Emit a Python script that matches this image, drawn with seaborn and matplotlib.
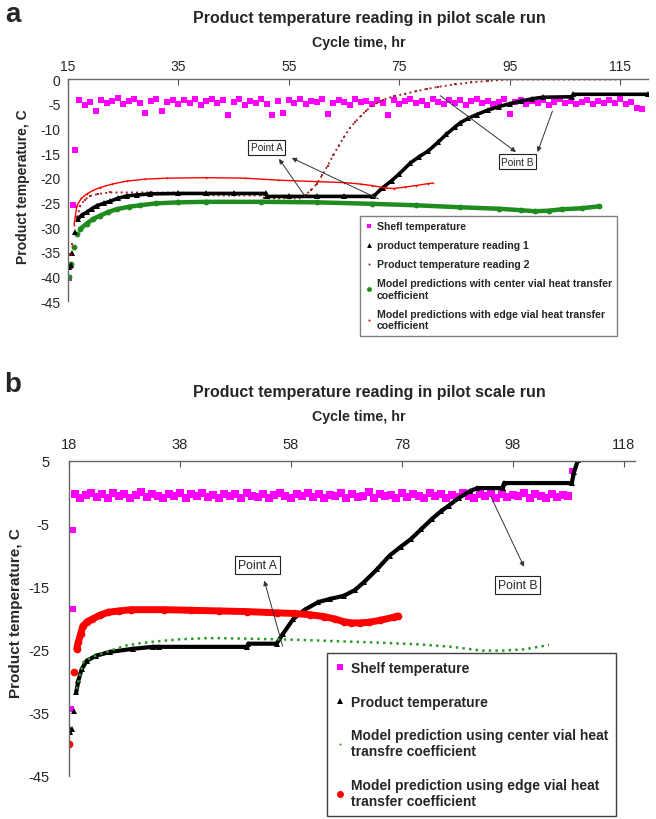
import numpy as np
import matplotlib
matplotlib.use("Agg")
import matplotlib.pyplot as plt
from matplotlib.lines import Line2D
import seaborn as sns

# ---------------- panel a ----------------
a_xticks = [15, 35, 55, 75, 95, 115]
a_yticks = [0, -5, -10, -15, -20, -25, -30, -35, -40, -45]

a_shelf_early_hr = [15.2, 15.4, 15.9, 16.2]
a_shelf_early_temp = [-40.3, -37.9, -25.6, -14.4]
a_shelf_first_hr = 17  # hourly readings from here on
a_shelf_temp = [
    -4.3, -5.2, -4.6, -6.4, -4.2, -4.9, -4.4, -3.9, -5.1, -4.5,
    -4.1, -4.8, -6.9, -4.4, -4.0, -6.5, -4.7, -4.2, -5.0, -4.3,
    -4.8, -4.0, -5.3, -4.5, -4.1, -4.9, -4.3, -7.3, -4.6, -4.0,
    -5.2, -4.4, -4.8, -4.1, -5.0, -7.2, -4.5, -6.9, -4.2, -4.8,
    -4.0, -5.1, -4.4, -4.7, -4.1, -7.0, -4.9, -4.3, -4.6, -5.2,
    -4.0, -4.7, -4.4, -5.0, -4.2, -4.8, -7.2, -4.3, -5.1, -4.5,
    -4.0, -4.9, -4.4, -5.3, -4.1, -4.7, -5.0, -4.3, -4.8, -4.2,
    -5.2, -4.5, -4.0, -4.9, -4.4, -5.1, -4.6, -4.1, -7.0, -4.7,
    -4.3, -5.0, -4.5, -4.9, -4.2, -5.2, -4.6, -4.0, -4.8, -4.4,
    -5.1, -4.7, -4.2, -5.0, -4.5, -4.9, -4.3, -4.8, -4.1, -5.0,
    -4.6, -5.8, -6.1,
]

a_read1_hr = [15.2, 15.5, 15.7, 16.3, 16.8, 17.5, 18.4, 19.3, 20.2, 21.5,
              22.6, 24.0, 25.6, 27.5, 29.8, 35, 40, 45, 50.8, 51.0,
              55, 60, 65, 70.3, 72, 73.6, 75, 77, 78.5, 80.2,
              82, 83.5, 85, 86, 87.4, 89, 91, 93, 95, 97,
              99, 101, 106.3, 106.5, 120]
a_read1_temp = [-38.2, -37.8, -35.3, -31.0, -28.4, -27.6, -27.0, -26.3, -25.7, -25.2,
                -24.8, -24.2, -23.7, -23.5, -23.3, -23.2, -23.2, -23.2, -23.2, -23.8,
                -23.8, -23.8, -23.8, -23.8, -22.0, -20.6, -19.2, -17.0, -15.8, -14.6,
                -12.8, -11.2, -9.8, -8.9, -8.0, -7.2, -6.3, -5.6, -5.0, -4.5,
                -4.0, -3.7, -3.6, -3.1, -3.1]

a_read2_hr = [15.3, 15.8, 16.2, 16.7, 17.2, 18, 19, 20.5, 22.6, 30,
              40, 40.5, 50, 50.5, 57, 58, 59, 60, 61, 62,
              63, 64, 65, 66, 67, 68, 69, 70, 71, 72,
              74, 76, 78, 80, 82, 85, 88, 91, 95, 100, 115]
a_read2_temp = [-35.5, -33.5, -31.0, -28.0, -25.8, -24.5, -23.7, -23.3, -23.0, -23.0,
                -23.1, -23.6, -23.6, -24.2, -24.2, -23.5, -22.5, -21.3, -19.5, -17.6,
                -15.5, -13.5, -11.7, -10.0, -8.7, -7.5, -6.4, -5.5, -4.8, -4.2,
                -3.5, -3.0, -2.5, -2.0, -1.6, -1.1, -0.7, -0.4, -0.1, -0.1, -0.1]

a_center_hr = [15.2, 15.6, 16.0, 16.6, 17.2, 18.4, 19.5, 20.8, 22.2, 23.8,
               26, 28, 31, 35, 40, 50, 60, 70, 78, 86,
               93, 97, 99.5, 102, 104.5, 108, 111.2]
a_center_temp = [-40.2, -37.5, -34.1, -31.4, -30.4, -29.3, -28.4, -27.7, -27.0, -26.4,
                 -25.9, -25.6, -25.2, -25.0, -24.9, -24.9, -25.0, -25.3, -25.6, -26.0,
                 -26.3, -26.6, -26.8, -26.7, -26.4, -26.2, -25.8]

a_edge_hr = [15.5, 15.7, 16.1, 16.6, 17.4, 18.4, 19.5, 20.8, 23, 25.6,
             29, 32.9, 40, 47, 53, 60, 65, 68, 70, 72.5,
             74, 76, 78, 80.2, 81]
a_edge_temp = [-35.5, -33.8, -29.5, -25.7, -24.2, -23.3, -22.6, -22.0, -21.3, -20.7,
               -20.3, -20.1, -20.0, -20.1, -20.5, -20.8, -21.0, -21.3, -21.6, -22.1,
               -22.2, -21.9, -21.6, -21.2, -21.1]

# ---------------- panel b ----------------
b_xticks = [18, 38, 58, 78, 98, 118]
b_yticks = [5, -5, -15, -25, -35, -45]

b_shelf_early_hr = [18.0, 18.4, 18.7, 18.8, 108.6]
b_shelf_early_temp = [-37.9, -34.4, -18.5, -5.95, 3.4]
b_shelf_first_hr = 19
b_shelf_temp = [
    -0.2, -0.8, -0.4, 0.0, -0.7, -0.3, -0.9, -0.1, -0.6, -0.2,
    -0.8, -0.4, 0.1, -0.7, -0.3, -0.5, -0.9, -0.2, -0.6, 0.0,
    -0.8, -0.3, -0.5, -0.1, -0.7, -0.4, -0.9, -0.2, -0.6, -0.3,
    -0.8, 0.0, -0.5, -0.7, -0.2, -0.9, -0.4, -0.1, -0.6, -0.8,
    -0.3, -0.5, 0.0, -0.7, -0.2, -0.9, -0.4, -0.6, -0.1, -0.8,
    -0.3, -0.7, -0.5, 0.1, -0.8, -0.2, -0.6, -0.4, -0.9, -0.1,
    -0.7, -0.3, -0.5, -0.8, 0.0, -0.6, -0.2, -0.9, -0.4, -0.7,
    -0.1, -0.5, -0.8, -0.3, -0.6, 0.0, -0.9, -0.2, -0.7, -0.4,
    -0.6, -0.1, -0.8, -0.3, -0.5, -0.9, -0.2, -0.7, -0.4, -0.6,
]

b_prod_hr = [18.0, 18.2, 18.5, 18.9, 19.3, 19.7, 20.3, 21.2, 22.9, 25.4,
             29.6, 33.1, 34.2, 50.1, 50.3, 55.4, 56.5, 58.4, 60.5, 62.9,
             65, 67.5, 69.5, 71.2, 73.5, 75.8, 77.8, 79.6, 81.5, 83.4,
             85, 86.4, 88.2, 90.2, 91.6, 96.2, 96.4, 108.6, 109.0, 109.7]
b_prod_temp = [-37.2, -38.0, -37.5, -34.7, -31.7, -29.8, -28.0, -26.7, -25.9, -25.3,
               -24.8, -24.5, -24.5, -24.5, -24.0, -24.0, -22.5, -20.1, -18.6, -17.4,
               -16.9, -16.4, -15.5, -14.2, -12.2, -10.0, -8.6, -7.4, -5.8, -4.2,
               -3.0, -2.1, -0.9, 0.2, 0.7, 0.7, 1.5, 1.5, 3.2, 5.1]

b_center_hr = [19.4, 19.8, 20.6, 22.0, 24.4, 28.2, 31, 34.2, 38, 43.3,
               50, 55.4, 60, 66, 73, 81, 87, 92.4, 96, 100, 104.5]
b_center_temp = [-31.2, -29.5, -26.9, -26.2, -25.4, -24.3, -23.9, -23.6, -23.3, -23.1,
                 -23.2, -23.3, -23.4, -23.6, -23.8, -24.1, -24.5, -25.1, -25.1, -24.9, -24.2]

b_edge_hr = [18.0, 18.9, 19.4, 19.7, 20.1, 20.5, 21.3, 22.2, 23.5, 25.1,
             27, 29.2, 35.2, 40, 45, 50, 55.4, 58.5, 61.5, 64,
             66, 67.5, 68.9, 70.5, 72, 74, 76.5, 77.2]
b_edge_temp = [-39.9, -28.5, -24.8, -23.7, -22.4, -21.2, -20.5, -20.1, -19.5, -19.0,
               -18.8, -18.6, -18.6, -18.7, -18.8, -18.9, -19.1, -19.2, -19.4, -19.7,
               -20.1, -20.5, -20.7, -20.7, -20.6, -20.3, -19.8, -19.6]

MAGENTA = "#FF00FF"
DARKRED = "#A0282A"
GREEN_A = "#1E8C1E"
GREEN_B = "#2E9A2E"
RED = "#FF0000"


def draw_series(ax, hr, temp, color, marker, ms, lw, join_from, ls="-"):
    """Markers at every reading, joined by a line once the curve settles."""
    hr = np.asarray(hr)
    temp = np.asarray(temp)
    keep = hr >= join_from
    if lw > 0:
        sns.lineplot(x=hr[keep], y=temp[keep], ax=ax, color=color, linewidth=lw,
                     linestyle=ls, estimator=None, sort=False)
    if marker is not None:
        sns.lineplot(x=hr, y=temp, ax=ax, color=color, linestyle="none", marker=marker,
                     markersize=ms, markeredgewidth=0, estimator=None, sort=False)


def style_axes(ax, xlim, ylim, xticks, yticks, fs, xpad, ypad, label_x, label_fs):
    ax.set_xlim(*xlim)
    ax.set_ylim(*ylim)
    ax.set_xticks(xticks)
    ax.set_yticks(yticks)
    ax.xaxis.tick_top()
    ax.tick_params(axis="x", direction="in", length=4, width=0.8, pad=xpad,
                   labelsize=fs, color="#555555")
    ax.tick_params(axis="y", direction="out", length=4, width=0.8, pad=ypad,
                   labelsize=fs, color="#555555")
    for s in ["right", "bottom"]:
        ax.spines[s].set_visible(False)
    for s in ["left", "top"]:
        ax.spines[s].set_color("#666666")
        ax.spines[s].set_linewidth(1.0)
    ax.set_xlabel("")
    ax.set_ylabel("Product temperature, C", fontsize=label_fs, fontweight="bold")
    ax.yaxis.set_label_coords(label_x, 0.52)


def point_label(ax, text, pos, starts, ends, fs):
    for (x0, y0), (x1, y1) in zip(starts, ends):
        ax.annotate("", xy=(x1, y1), xytext=(x0, y0),
                    arrowprops=dict(arrowstyle="-|>", color="#333333", lw=0.7,
                                    mutation_scale=7, shrinkA=0, shrinkB=0))
    ax.text(pos[0], pos[1], text, fontsize=fs, ha="center", va="center",
            bbox=dict(boxstyle="square,pad=0.25", facecolor="white",
                      edgecolor="#222222", linewidth=0.8))


sns.set_style("white")
plt.rcParams["font.family"] = ["Liberation Sans", "DejaVu Sans"]
plt.rcParams["axes.unicode_minus"] = False

fig = plt.figure(figsize=(6.56, 8.2), dpi=100)
ax1 = fig.add_axes([68 / 656, 1 - 302 / 820, (648 - 68) / 656, (302 - 80) / 820])
ax2 = fig.add_axes([69 / 656, 1 - 777 / 820, (635 - 69) / 656, (777 - 462) / 820])

# ---- panel a ----
a_shelf_hr = np.arange(a_shelf_first_hr, a_shelf_first_hr + len(a_shelf_temp))
sns.scatterplot(x=a_shelf_hr, y=a_shelf_temp, ax=ax1, color=MAGENTA, marker="s",
                s=15, linewidth=0)
sns.scatterplot(x=a_shelf_early_hr, y=a_shelf_early_temp, ax=ax1, color=MAGENTA,
                marker="s", s=15, linewidth=0)
draw_series(ax1, a_read2_hr, a_read2_temp, DARKRED, "s", 1.5, 1.4, 16.5, ls=":")
draw_series(ax1, a_center_hr, a_center_temp, GREEN_A, "o", 4.2, 3.2, 17.0)
draw_series(ax1, a_read1_hr, a_read1_temp, "black", "^", 3.8, 2.6, 16.5)
draw_series(ax1, a_edge_hr, a_edge_temp, RED, ".", 2.5, 1.0, 16.0)

style_axes(ax1, (15, 120), (-45, 0), a_xticks, a_yticks, 10, 4.5, 1.5, -0.066, 10)

point_label(ax1, "Point A", (51, -13.8),
            [(58, -23.9), (71.2, -24.3)], [(53.2, -16.2), (55.5, -16.0)], 7.2)
point_label(ax1, "Point B", (96.4, -16.8),
            [(82.4, -3.4), (102.7, -6.5)], [(96.1, -14.8), (100, -14.8)], 7.2)

a_handles = [
    Line2D([], [], ls="none", marker="s", color=MAGENTA, ms=3.5, mew=0),
    Line2D([], [], ls="none", marker="^", color="black", ms=3.5, mew=0),
    Line2D([], [], ls="none", marker=".", color=DARKRED, ms=3, mew=0),
    Line2D([], [], ls="none", marker="o", color=GREEN_A, ms=3.5, mew=0),
    Line2D([], [], ls="none", marker=".", color=RED, ms=3, mew=0),
]
a_labels = [
    "Shefl temperature",
    "product temperature reading 1",
    "Product temperature reading 2",
    "Model predictions with center vial heat transfer\ncoefficient",
    "Model predictions with edge vial heat transfer\ncoefficient",
]
leg1 = ax1.legend(a_handles, a_labels, loc="upper left",
                  bbox_to_anchor=(360 / 656, 1 - 217 / 820), bbox_transform=fig.transFigure,
                  frameon=True, fancybox=False, edgecolor="#808080", framealpha=1,
                  prop={"weight": "bold", "size": 7.6}, labelspacing=0.85,
                  handlelength=0.7, handletextpad=0.4, borderpad=0.5, borderaxespad=0)
leg1.get_frame().set_linewidth(1.0)

# ---- panel b ----
b_shelf_hr = np.arange(b_shelf_first_hr, b_shelf_first_hr + len(b_shelf_temp))
sns.scatterplot(x=b_shelf_hr, y=b_shelf_temp, ax=ax2, color=MAGENTA, marker="s",
                s=28, linewidth=0)
sns.scatterplot(x=b_shelf_early_hr, y=b_shelf_early_temp, ax=ax2, color=MAGENTA,
                marker="s", s=24, linewidth=0)
draw_series(ax2, b_prod_hr, b_prod_temp, "black", "^", 4.6, 3.0, 19.0)
draw_series(ax2, b_center_hr, b_center_temp, GREEN_B, None, 0, 1.8, 19.4, ls=":")
draw_series(ax2, b_edge_hr, b_edge_temp, RED, "o", 5.5, 5.0, 19.4)

style_axes(ax2, (18, 120), (-45, 5), b_xticks, b_yticks, 10.5, 7, 10, -0.082, 11)

point_label(ax2, "Point A", (51.9, -11.5), [(56.5, -24.4)], [(53.2, -14.0)], 8.8)
point_label(ax2, "Point B", (98.8, -14.7), [(94, -0.6)], [(100, -11.8)], 8.8)

b_handles = [
    Line2D([], [], ls="none", marker="s", color=MAGENTA, ms=4.5, mew=0),
    Line2D([], [], ls="none", marker="^", color="black", ms=4.5, mew=0),
    Line2D([], [], ls="none", marker=".", color=GREEN_B, ms=3, mew=0),
    Line2D([], [], ls="none", marker="o", color=RED, ms=5, mew=0),
]
b_labels = [
    "Shelf temperature",
    "Product temperature",
    "Model prediction using center vial heat\ntransfre coefficient",
    "Model prediction using edge vial heat\ntransfer coefficient",
]
leg2 = ax2.legend(b_handles, b_labels, loc="upper left",
                  bbox_to_anchor=(327 / 656, 1 - 654 / 820), bbox_transform=fig.transFigure,
                  frameon=True, fancybox=False, edgecolor="#404040", framealpha=1,
                  prop={"weight": "bold", "size": 10}, labelspacing=1.4,
                  handlelength=0.7, handletextpad=0.4, borderpad=0.6, borderaxespad=0)
leg2.get_frame().set_linewidth(1.0)

# titles, axis titles and panel letters
for ytitle, ycycle, letter, yletter in [(18, 43, "a", 15), (393, 417, "b", 385)]:
    fig.text(369 / 656, 1 - ytitle / 820, "Product temperature reading in pilot scale run",
             ha="center", va="center", fontsize=11.5, fontweight="bold")
    fig.text(359 / 656, 1 - ycycle / 820, "Cycle time, hr",
             ha="center", va="center", fontsize=10.3, fontweight="bold")
    fig.text(13 / 656, 1 - yletter / 820, letter, ha="center", va="center",
             fontsize=20, fontweight="bold")

fig.savefig("out.png", dpi=100)
plt.close(fig)
